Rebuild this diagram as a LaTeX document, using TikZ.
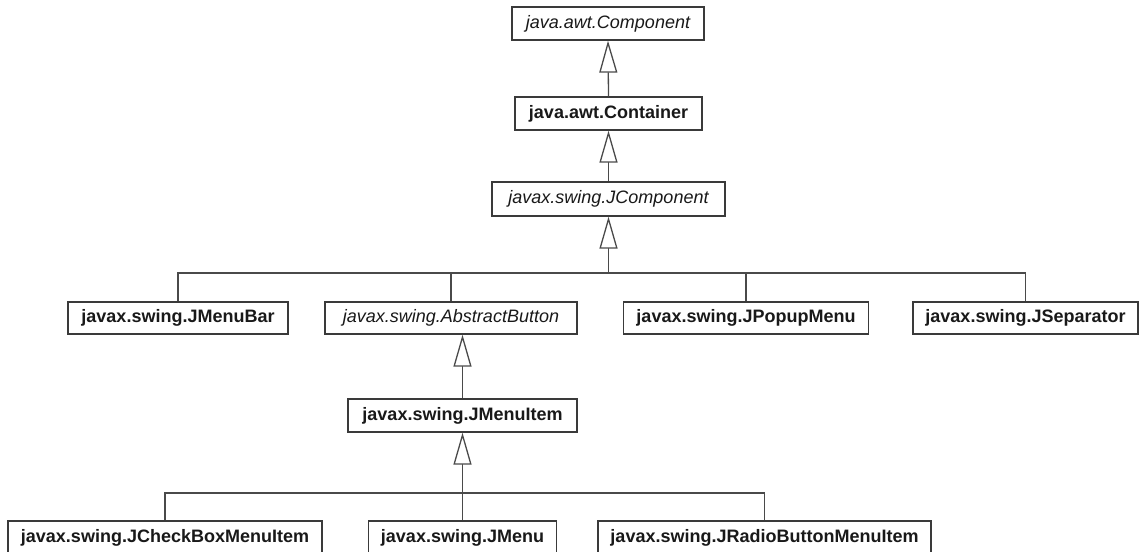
\documentclass[tikz,border=0pt]{standalone}
\usepackage{fontspec}
\setmainfont{Liberation Sans}
\usetikzlibrary{arrows.meta}
\definecolor{boxline}{HTML}{3A3A3A}
\definecolor{conline}{HTML}{4A4A4A}
\tikzset{
  cls/.style={draw=boxline, line width=1.3pt, fill=white, inner sep=0pt,
    minimum height=33pt, font=\fontsize{18}{20}\selectfont\bfseries, text=black!90},
  acls/.style={cls, font=\fontsize{18}{20}\selectfont\itshape},
  inh/.style={draw=conline, line width=1.3pt,
    -{Triangle[length=32pt,width=18pt,fill=white,line width=1.3pt]}},
  tree/.style={draw=conline, line width=1.3pt},
}
\begin{document}
\begin{tikzpicture}[x=1pt,y=1pt]
\useasboundingbox (0,0) rectangle (1139,-551);
% level 0-2
\node[acls, minimum width=192pt] (comp) at (608,-23.5) {java.awt.Component};
\node[cls,  minimum width=187pt] (cont) at (608.5,-113.5) {java.awt.Container};
\node[acls, minimum width=233pt, minimum height=34pt] (jcomp) at (608.5,-199) {javax.swing.JComponent};
% row 2
\node[cls,  minimum width=220pt, minimum height=32pt] (menubar) at (178,-318) {javax.swing.JMenuBar};
\node[acls, minimum width=252pt, minimum height=32pt] (absbtn) at (451,-318) {javax.swing.AbstractButton};
\node[cls,  minimum width=245pt, minimum height=32pt] (popup) at (746,-318) {javax.swing.JPopupMenu};
\node[cls,  minimum width=225pt, minimum height=32pt] (sep) at (1025.5,-318) {javax.swing.JSeparator};
% JMenuItem
\node[cls,  minimum width=229pt] (menuitem) at (462.5,-415.5) {javax.swing.JMenuItem};
% bottom row
\node[cls,  minimum width=314pt] (check) at (165,-537.5) {javax.swing.JCheckBoxMenuItem};
\node[cls,  minimum width=188pt] (jmenu) at (462.5,-537.5) {javax.swing.JMenu};
\node[cls,  minimum width=333pt] (radio) at (764.5,-537.5) {javax.swing.JRadioButtonMenuItem};
% junctions
\coordinate (bar1) at (608.5,-273);
\coordinate (bar2) at (462.5,-493);
% inheritance arrows
\draw[inh] (cont.north) -- (comp.south);
\draw[inh] (jcomp.north) -- (cont.south);
\draw[inh] (bar1) -- (jcomp.south);
\draw[tree] (menubar.north) |- (bar1);
\draw[tree] (absbtn.north) -- (absbtn.north |- bar1);
\draw[tree] (popup.north) -- (popup.north |- bar1);
\draw[tree] (bar1) -| (sep.north);
\draw[inh] (menuitem.north) -- (menuitem.north |- absbtn.south);
\draw[inh] (bar2) -- (menuitem.south);
\draw[tree] (check.north) |- (bar2);
\draw[tree] (jmenu.north) -- (bar2);
\draw[tree] (bar2) -| (radio.north);
\end{tikzpicture}
\end{document}
